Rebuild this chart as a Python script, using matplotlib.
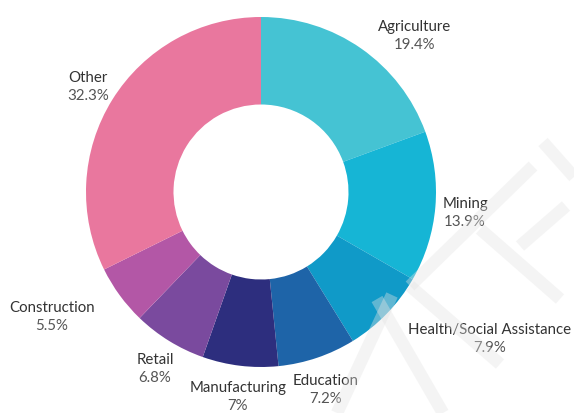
import matplotlib.pyplot as plt

sectors = ['Agriculture', 'Mining', 'Health/Social Assistance', 'Education',
           'Manufacturing', 'Retail', 'Construction', 'Other']
shares = [19.4, 13.9, 7.9, 7.2, 7, 6.8, 5.5, 32.3]
share_labels = ['19.4%', '13.9%', '7.9%', '7.2%', '7%', '6.8%', '5.5%', '32.3%']
colors = ['#45c3d3', '#16b5d5', '#109ac8', '#1e64a8',
          '#2d2e7e', '#7a4a9e', '#b357a6', '#e9779e']

# label anchors in pixels of the 574x414 image (layout only)
label_px = [(415, 36), (465, 213), (490, 339), (326, 390),
            (238, 397), (155, 369), (52, 317), (88, 87)]

plt.rcParams['font.family'] = ['Lato', 'DejaVu Sans']

fig = plt.figure(figsize=(5.74, 4.14), dpi=100)
ax = fig.add_axes([0, 0, 1, 1])

cx, cy, R = 261, 193, 175  # pixel center and outer radius
ax.pie(shares, colors=colors, startangle=90, counterclock=False,
       radius=1, wedgeprops=dict(width=0.5, linewidth=0))

ax.set_xlim(-cx / R, (574 - cx) / R)
ax.set_ylim(-(414 - cy) / R, cy / R)
ax.set_aspect('auto')
ax.axis('off')

for name, pct, (px, py) in zip(sectors, share_labels, label_px):
    x = (px - cx) / R
    y = (cy - py) / R
    ax.text(x, y + 0.05, name, ha='center', va='center', fontsize=10.8, color='#333333')
    ax.text(x, y - 0.05, pct, ha='center', va='center', fontsize=10.8, color='#555555')

# faint watermark stripes (pixel coords)
stripes = [((410, 287), (533, 167)), ((543, 143), (574, 178)),
           ((520, 247), (566, 207)), ((480, 230), (560, 300)),
           ((410, 287), (500, 365)), ((337, 414), (392, 296)),
           ((377, 300), (443, 414))]
for (x0, y0), (x1, y1) in stripes:
    fig.add_artist(plt.Line2D([x0 / 574, x1 / 574], [1 - y0 / 414, 1 - y1 / 414],
                              transform=fig.transFigure, color='#e4e4e4',
                              alpha=0.38, lw=9, solid_capstyle='butt'))

fig.savefig('out.png', dpi=100)
